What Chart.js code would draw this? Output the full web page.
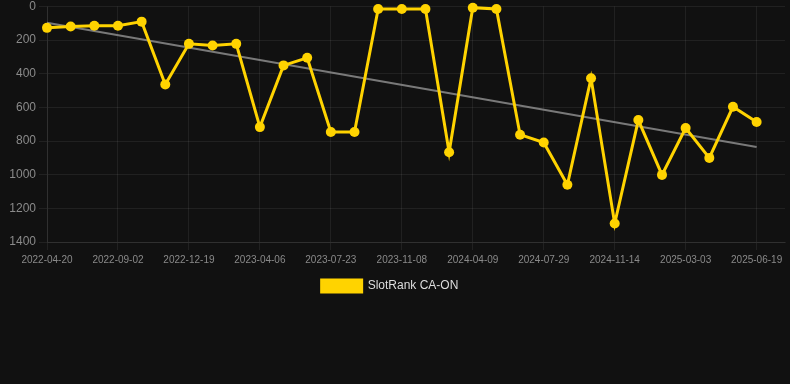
<!DOCTYPE html>
<html>
<head>
<meta charset="utf-8">
<script src="https://cdn.jsdelivr.net/npm/chart.js@4"></script>
<style>
  html, body { margin: 0; padding: 0; background: #111111; }
  #wrap { position: relative; width: 790px; height: 302px; }
</style>
</head>
<body>
<div id="wrap"><canvas id="c"></canvas></div>
<script>
const dateLabels = [
  '2022-04-20','2022-06-04','2022-07-19','2022-09-02','2022-10-08','2022-11-13',
  '2022-12-19','2023-01-24','2023-03-01','2023-04-06','2023-05-12','2023-06-17',
  '2023-07-23','2023-08-28','2023-10-03','2023-11-08','2023-12-14','2024-01-19',
  '2024-04-09','2024-05-15','2024-06-22','2024-07-29','2024-09-03','2024-10-09',
  '2024-11-14','2024-12-20','2025-01-25','2025-03-03','2025-04-08','2025-05-14',
  '2025-06-19'
];
const rankValues = [
  127, 119, 114, 114, 90, 464, 222, 232, 222, 717, 350, 305,
  746, 746, 15, 15, 15, 866, 7, 15, 762, 809, 1060, 427,
  1290, 675, 1001, 723, 900, 596, 687
];
const trendStart = 96;
const trendEnd = 835;
const seriesName = 'SlotRank CA-ON';
const yTicks = [0, 200, 400, 600, 800, 1000, 1200, 1400];

const rankPoints = rankValues.map((v, i) => ({ x: i, y: v }));
const trendPoints = [{ x: 0, y: trendStart }, { x: rankValues.length - 1, y: trendEnd }];

const font = { family: "'Liberation Sans', Arial, Helvetica, sans-serif" };
const gridColor = 'rgba(255,255,255,0.07)';

const legendShift = {
  id: 'legendShift',
  afterLayout(chart) {
    if (chart.legend) { chart.legend.left -= 10; }
  }
};

new Chart(document.getElementById('c'), {
  type: 'line',
  data: {
    datasets: [
      {
        label: seriesName,
        data: rankPoints,
        borderColor: '#FFD300',
        backgroundColor: '#FFD300',
        borderWidth: 3,
        pointRadius: 5,
        pointBackgroundColor: '#FFD300',
        pointBorderColor: '#FFD300',
        pointBorderWidth: 0,
        tension: 0,
        clip: false,
        order: 1
      },
      {
        label: 'trend',
        data: trendPoints,
        borderColor: 'rgba(140,140,140,0.85)',
        borderWidth: 2,
        pointRadius: 0,
        fill: false,
        clip: false,
        order: 2
      }
    ]
  },
  plugins: [legendShift],
  options: {
    responsive: true,
    maintainAspectRatio: false,
    animation: false,
    layout: { padding: 0 },
    plugins: {
      tooltip: { enabled: false },
      legend: {
        display: true,
        position: 'bottom',
        labels: {
          color: '#dddddd',
          font: { ...font, size: 12 },
          boxWidth: 40,
          boxHeight: 12,
          filter: (item) => item.text === seriesName
        }
      }
    },
    scales: {
      x: {
        type: 'linear',
        min: 0,
        max: 31.2,
        grid: { color: gridColor, drawTicks: true, tickLength: 8 },
        border: { color: gridColor },
        ticks: {
          stepSize: 3,
          includeBounds: false,
          autoSkip: false,
          maxRotation: 0,
          color: '#8a8a8a',
          font: { ...font, size: 10 },
          padding: 4,
          callback: (v) => (Number.isInteger(v) && dateLabels[v] !== undefined) ? dateLabels[v] : ''
        }
      },
      y: {
        reverse: true,
        min: yTicks[0],
        max: yTicks[yTicks.length - 1],
        grid: { color: gridColor, tickLength: 8 },
        border: { color: gridColor },
        afterBuildTicks: (axis) => { axis.ticks = yTicks.map(v => ({ value: v })); },
        afterFit: (axis) => { axis.width = 47; axis.paddingTop = 6.5; },
        ticks: {
          color: '#8a8a8a',
          font: { ...font, size: 12 },
          padding: 3,
          callback: (v) => String(v)
        }
      }
    }
  }
});
</script>
</body>
</html>
